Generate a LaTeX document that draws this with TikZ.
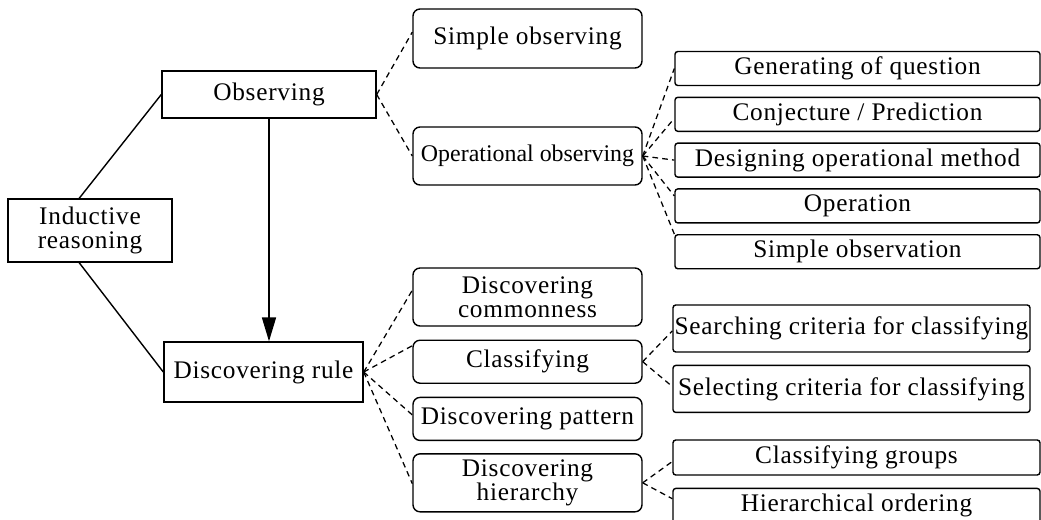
\documentclass[tikz,border=0pt]{standalone}
\usepackage{fontspec}
\setmainfont[LetterSpace=3]{Liberation Serif}
\usepackage{tikz}
\usetikzlibrary{arrows.meta, positioning}
\tikzstyle{concept} = [rectangle, text centered, align=center, draw=black, line width=1pt, inner sep=1pt, font=\fontsize{18pt}{17pt}\selectfont]
\tikzstyle{skill} = [concept, rounded corners=5pt, minimum width=5.725cm]
\tikzstyle{subskill} = [concept, rounded corners=2pt]
\tikzstyle{link} = [line width=1pt,-]
\tikzstyle{dashlink} = [line width=0.9pt, dash pattern=on 4pt off 3pt]
\tikzstyle{arrow} = [line width=1pt,-{Triangle[length=17pt,width=10pt]}]

\begin{document}
\begin{tikzpicture}
\useasboundingbox (0,0) rectangle (26.025,-12.975);

% Root and the two main processes
\node (ind) [concept, minimum width=4.1cm, minimum height=1.575cm] at (2.25,-5.7625) {Inductive\\reasoning};
\node (obs) [concept, minimum width=5.35cm, minimum height=1.175cm] at (6.725,-2.3625) {Observing};
\node (rule) [concept, minimum width=4.975cm, minimum height=1.5cm] at (6.5875,-9.3) {Discovering rule};

% Kinds of observing
\node (simple-obs) [skill, minimum height=1.475cm] at (13.1875,-0.9625) {Simple observing};
\node (oper-obs) [skill, minimum height=1.45cm, font=\fontsize{17pt}{17pt}\selectfont\addfontfeature{LetterSpace=0}] at (13.1875,-3.9) {Operational observing};

% Steps of operational observing
\node (question) [subskill, minimum width=9.125cm, minimum height=0.85cm] at (21.4375,-1.7125) {Generating of question};
\node (conjecture) [subskill, minimum width=9.125cm, minimum height=0.85cm, below=0.26cm of question] {Conjecture / Prediction};
\node (design) [subskill, minimum width=9.125cm, minimum height=0.85cm, below=0.26cm of conjecture] {Designing operational method};
\node (operation) [subskill, minimum width=9.125cm, minimum height=0.85cm, below=0.26cm of design] {Operation};
\node (simple-obsn) [subskill, minimum width=9.125cm, minimum height=0.85cm, below=0.26cm of operation] {Simple observation};

% Kinds of discovering rule
\node (common) [skill, minimum height=1.45cm] at (13.1875,-7.425) {Discovering\\commonness};
\node (classify) [skill, minimum height=1.075cm, below=0.32cm of common] {Classifying};
\node (pattern) [skill, minimum height=1.075cm, below=0.32cm of classify] {Discovering pattern};
\node (hierarchy) [skill, minimum height=1.45cm, below=0.3cm of pattern] {Discovering\\hierarchy};

% Steps of classifying
\node (search) [subskill, minimum width=8.925cm, minimum height=1.175cm] at (21.2875,-8.2125) {Searching criteria for classifying};
\node (select) [subskill, minimum width=8.925cm, minimum height=1.175cm, below=0.3cm of search] {Selecting criteria for classifying};

% Steps of discovering hierarchy
\node (groups) [subskill, minimum width=9.175cm, minimum height=0.875cm] at (21.4125,-11.4375) {Classifying groups};
\node (ordering) [subskill, minimum width=9.175cm, minimum height=0.875cm, below=0.3cm of groups] {Hierarchical ordering};

% Solid lines
\draw [link] ([xshift=-0.27cm]ind.north) -- (obs.west);
\draw [link] ([xshift=-0.27cm]ind.south) -- (rule.west);
\draw [arrow] (obs.south) -- (obs.south |- rule.north);

% Dashed lines
\draw [dashlink] (obs.east) -- ([yshift=0.16cm]simple-obs.west);
\draw [dashlink] (obs.east) -- (oper-obs.west);

\draw [dashlink] (oper-obs.east) -- (question.west);
\draw [dashlink] (oper-obs.east) -- ([yshift=-0.1cm]conjecture.west);
\draw [dashlink] (oper-obs.east) -- (design.west);
\draw [dashlink] (oper-obs.east) -- ([yshift=0.25cm]operation.west);
\draw [dashlink] (oper-obs.east) -- (simple-obsn.north west);

\draw [dashlink] (rule.east) -- ([yshift=0.17cm]common.west);
\draw [dashlink] (rule.east) -- ([yshift=0.4cm]classify.west);
\draw [dashlink] (rule.east) -- ([yshift=0.1cm]pattern.west);
\draw [dashlink] (rule.east) -- ([yshift=-0.02cm]hierarchy.west);

\draw [dashlink] (classify.east) -- ([yshift=-0.06cm]search.west);
\draw [dashlink] (classify.east) -- ([yshift=0.06cm]select.west);

\draw [dashlink] (hierarchy.east) -- ([yshift=-0.1cm]groups.west);
\draw [dashlink] (hierarchy.east) -- ([yshift=0.18cm]ordering.west);

\end{tikzpicture}
\end{document}
